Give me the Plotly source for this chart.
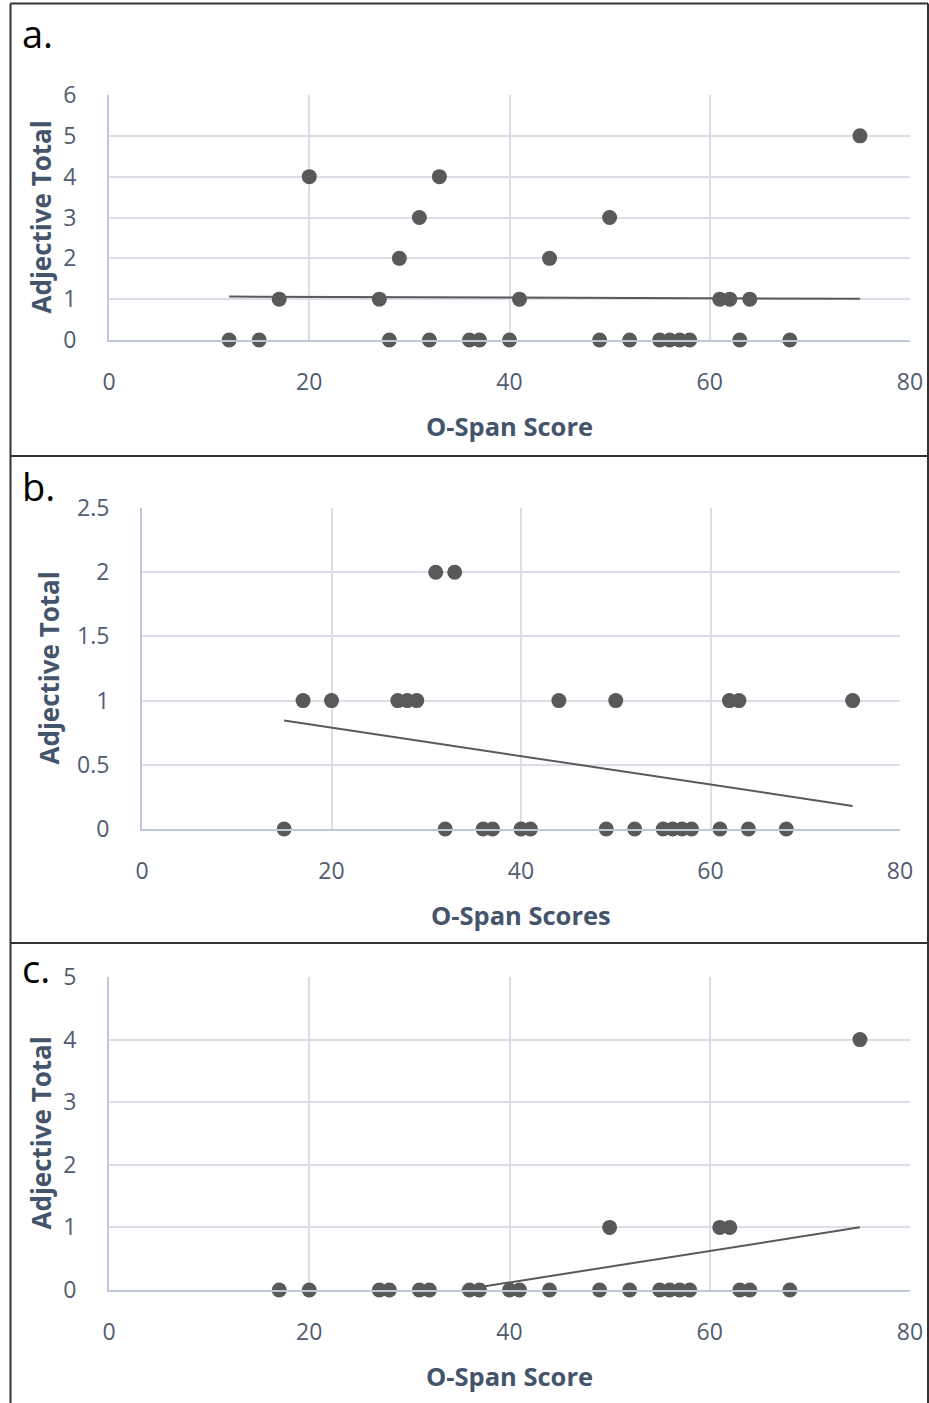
import numpy as np
import plotly.graph_objects as go

W, H = 929, 1403

# ---------------- data ----------------
a_x = [12, 15, 17, 20, 27, 28, 29, 31, 32, 33, 36, 37, 40, 41, 44, 49, 50, 52,
       55, 56, 57, 58, 61, 62, 63, 64, 68, 75]
a_y = [0, 0, 1, 4, 1, 0, 2, 3, 0, 4, 0, 0, 0, 1, 2, 0, 3, 0,
       0, 0, 0, 0, 1, 1, 0, 1, 0, 5]

b_x = [15, 17, 20, 27, 28, 29, 31, 32, 33, 36, 37, 40, 41, 44, 49, 50, 52,
       55, 56, 57, 58, 61, 62, 63, 64, 68, 75]
b_y = [0, 1, 1, 1, 1, 1, 2, 0, 2, 0, 0, 0, 0, 1, 0, 1, 0,
       0, 0, 0, 0, 0, 1, 1, 0, 0, 1]

c_x = [17, 20, 27, 28, 31, 32, 36, 37, 40, 41, 44, 49, 50, 52, 55, 56, 57, 58,
       61, 62, 63, 64, 68, 75]
c_y = [0, 0, 0, 0, 0, 0, 0, 0, 0, 0, 0, 0, 1, 0, 0, 0, 0, 0,
       1, 1, 0, 0, 0, 4]

panel_labels = ["a.", "b.", "c."]
x_titles = ["O-Span Score", "O-Span Scores", "O-Span Score"]
y_title = "Adjective Total"
y_ranges = [[0, 6], [0, 2.5], [0, 5]]
y_dticks = [1, 0.5, 1]
x_range = [0, 80]
x_dtick = 20

# ---------------- layout geometry (pixels) ----------------
# plot-area boxes: (left, right, top, bottom)
boxes = [(109, 910, 95, 340), (142, 900, 508, 829), (109, 910, 977, 1290)]
frame_seps = [456, 943]

FONT = "Open Sans"
TICK_COL = "#505C70"
TITLE_COL = "#44546A"
GRID_COL = "#D9DEE8"
AXIS_COL = "#BFC8D8"
MARK_COL = "#595959"


def px(x):
    return x / W


def py(y):
    return 1 - y / H


fig = go.Figure()
datasets = [(a_x, a_y), (b_x, b_y), (c_x, c_y)]

for i, (xs, ys) in enumerate(datasets):
    k = "" if i == 0 else str(i + 1)
    xa, ya = "x" + k, "y" + k
    xs_arr = np.array(xs, dtype=float)
    ys_arr = np.array(ys, dtype=float)
    slope, icpt = np.polyfit(xs_arr, ys_arr, 1)
    x0, x1 = xs_arr.min(), xs_arr.max()
    if slope * x0 + icpt < 0 and slope != 0:
        x0 = max(x0, -icpt / slope)
    tx = np.array([x0, x1])
    ty = slope * tx + icpt
    fig.add_trace(go.Scatter(x=tx, y=ty, mode="lines", xaxis=xa, yaxis=ya,
                             line=dict(color=MARK_COL, width=2),
                             showlegend=False, hoverinfo="skip"))
    fig.add_trace(go.Scatter(x=xs, y=ys, mode="markers", xaxis=xa, yaxis=ya,
                             marker=dict(color=MARK_COL, size=15,
                                         line=dict(width=0)),
                             cliponaxis=False, showlegend=False))

    l, r, t, b = boxes[i]
    fig.layout["xaxis" + k] = dict(
        domain=[px(l), px(r)], range=x_range, dtick=x_dtick, tick0=0,
        anchor=ya, showgrid=True, gridcolor=GRID_COL, gridwidth=1.5,
        zeroline=False, showline=True, linecolor=AXIS_COL, linewidth=2,
        ticks="", ticklabelstandoff=20, automargin=False,
        tickfont=dict(family=FONT, size=23, color=TICK_COL),
        fixedrange=True,
    )
    fig.layout["yaxis" + k] = dict(
        domain=[py(b), py(t)], range=y_ranges[i], dtick=y_dticks[i], tick0=0,
        anchor=xa, showgrid=True, gridcolor=GRID_COL, gridwidth=1.5,
        zeroline=False, showline=True, linecolor=AXIS_COL, linewidth=2,
        ticks="", ticklabelstandoff=26, automargin=False,
        tickfont=dict(family=FONT, size=23, color=TICK_COL),
        fixedrange=True,
    )

annotations = []
label_pos = [(20, 33), (20, 486), (20, 968)]
ytitle_x = [40, 48, 40]
for i in range(3):
    l, r, t, b = boxes[i]
    annotations.append(dict(
        text=panel_labels[i], x=px(label_pos[i][0]), y=py(label_pos[i][1]),
        xref="paper", yref="paper", xanchor="left", yanchor="middle",
        showarrow=False, font=dict(family=FONT, size=38, color="#000000")))
    annotations.append(dict(
        text="<b>%s</b>" % x_titles[i], x=px((l + r) / 2), y=py(b + 86),
        xref="paper", yref="paper", xanchor="center", yanchor="middle",
        showarrow=False, font=dict(family=FONT, size=25.5, color=TITLE_COL)))
    annotations.append(dict(
        text="<b>%s</b>" % y_title, x=px(ytitle_x[i]), y=py((t + b) / 2),
        xref="paper", yref="paper", xanchor="center", yanchor="middle",
        textangle=-90, showarrow=False,
        font=dict(family=FONT, size=26, color=TITLE_COL)))

FRAME = "#333333"
shapes = [
    dict(type="line", xref="paper", yref="paper", x0=px(10.5), x1=px(928),
         y0=py(3.5), y1=py(3.5), line=dict(color=FRAME, width=2)),
    dict(type="line", xref="paper", yref="paper", x0=px(10.5), x1=px(10.5),
         y0=py(3.5), y1=py(1403), line=dict(color=FRAME, width=2)),
    dict(type="line", xref="paper", yref="paper", x0=px(928), x1=px(928),
         y0=py(3.5), y1=py(1403), line=dict(color=FRAME, width=2)),
]
for s in frame_seps:
    shapes.append(dict(type="line", xref="paper", yref="paper", x0=px(10.5),
                       x1=px(928), y0=py(s), y1=py(s),
                       line=dict(color=FRAME, width=2)))

fig.update_layout(
    width=W, height=H, margin=dict(l=0, r=0, t=0, b=0, pad=0),
    paper_bgcolor="white", plot_bgcolor="white",
    annotations=annotations, shapes=shapes, showlegend=False,
)

fig.write_html("out.html", config={"displayModeBar": False},
               post_script="document.body.style.margin='0';"
                           "document.body.style.overflow='hidden';")
